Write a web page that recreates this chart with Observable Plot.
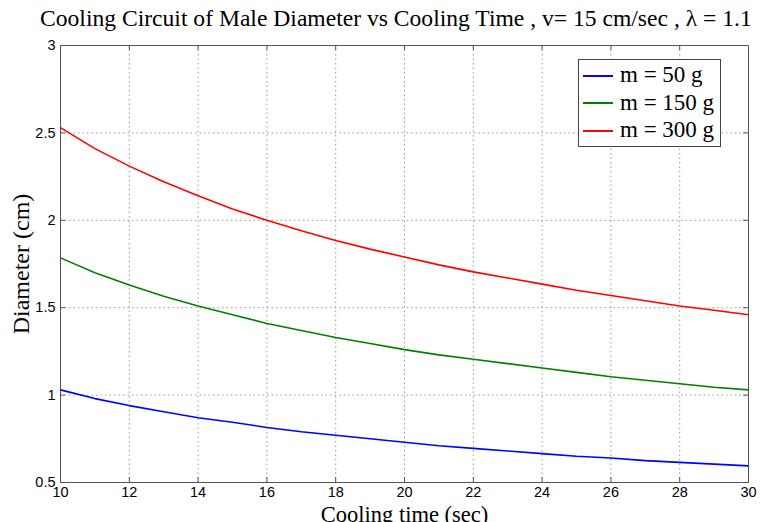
<!DOCTYPE html>
<html>
<head>
<meta charset="utf-8">
<script src="https://cdn.jsdelivr.net/npm/d3@7"></script>
<script src="https://cdn.jsdelivr.net/npm/@observablehq/plot@0.6"></script>
<style>
  html, body { margin: 0; padding: 0; background: #fff; }
  #wrap { position: relative; width: 773px; height: 522px; overflow: hidden; }
  #title { position: absolute; left: 40px; top: 0; height: 36px; text-align: left;
    font-family: "Liberation Serif", "Times New Roman", serif; font-size: 23.6px; line-height: 36px; color: #000; white-space: nowrap; }
  #chart { position: absolute; left: 0; top: 36px; }
  #chart svg text { fill: #000; }
  #chart [aria-label="x-axis label"] text { font-family: "Liberation Serif", "Times New Roman", serif; font-size: 22.5px; }
  #chart [aria-label="y-axis label"] text { font-family: "Liberation Serif", "Times New Roman", serif; font-size: 24px; }
  #legend { position: absolute; left: 578px; top: 59px; width: 141px; height: 86px; border: 1px solid #444; background: #fff;
    font-family: "Liberation Serif", "Times New Roman", serif; font-size: 23px; color: #000; }
  .row { position: absolute; left: 4px; height: 28px; line-height: 28px; white-space: nowrap; }
  .sw { display: inline-block; width: 30px; height: 2px; vertical-align: middle; margin-right: 7px; position: relative; top: -1px; }
</style>
</head>
<body>
<div id="wrap">
  <div id="title">Cooling Circuit of Male Diameter vs Cooling Time , v= 15 cm/sec , λ = 1.1</div>
  <div id="chart"></div>
  <div id="legend"></div>
</div>
<script>
const time = [10,11,12,13,14,15,16,17,18,19,20,21,22,23,24,25,26,27,28,29,30];
const m50  = [1.03,0.98,0.94,0.905,0.87,0.845,0.815,0.79,0.77,0.75,0.73,0.71,0.695,0.68,0.665,0.65,0.64,0.625,0.615,0.605,0.595];
const m150 = [1.785,1.70,1.63,1.565,1.51,1.46,1.41,1.37,1.33,1.295,1.26,1.23,1.205,1.18,1.155,1.13,1.105,1.085,1.065,1.045,1.03];
const m300 = [2.53,2.41,2.31,2.22,2.14,2.065,2.0,1.94,1.885,1.835,1.79,1.745,1.705,1.67,1.635,1.60,1.57,1.54,1.51,1.485,1.46];
const seriesNames = ["m = 50 g", "m = 150 g", "m = 300 g"];
const seriesColors = ["#0000ff", "#008000", "#ff0000"];
const xTicks = [10,12,14,16,18,20,22,24,26,28,30];
const yTicks = [0.5,1,1.5,2,2.5,3];

const seriesValues = [m50, m150, m300];
const data = [];
seriesValues.forEach((vals, i) => vals.forEach((v, j) => data.push({t: time[j], d: v, s: seriesNames[i]})));

const W = 773, H = 486, ML = 60, MR = 25, MT = 9, MB = 40;
const innerW = W - ML - MR, innerH = H - MT - MB, tickLen = 5;

const tickFont = {fontFamily: "'Liberation Sans', Arial, sans-serif", fontSize: 14.5};
const gridStyle = {stroke: "#999", strokeOpacity: 1, strokeDasharray: "1.5,3"};
const tickStyle = {stroke: "#555", strokeWidth: 1};

const chart = Plot.plot({
  width: W,
  height: H,
  marginLeft: ML,
  marginRight: MR,
  marginTop: MT,
  marginBottom: MB,
  style: {background: "#fff", color: "#000"},
  x: {domain: [10, 30], ticks: xTicks, label: "Cooling time (sec)", labelAnchor: "center", labelArrow: "none"},
  y: {domain: [0.5, 3], ticks: yTicks, label: "Diameter (cm)", labelAnchor: "center", labelArrow: "none"},
  color: {domain: seriesNames, range: seriesColors},
  marks: [
    Plot.gridX(xTicks, gridStyle),
    Plot.gridY(yTicks, gridStyle),
    Plot.axisX(xTicks, {tickSize: 0, tickPadding: 4, tickFormat: d => String(d), ...tickFont, label: "Cooling time (sec)", labelAnchor: "center", labelArrow: "none", labelOffset: 39}),
    Plot.axisY(yTicks, {tickSize: 0, tickPadding: 5, tickFormat: d => String(d), ...tickFont, label: "Diameter (cm)", labelAnchor: "center", labelArrow: "none", labelOffset: 49}),
    Plot.tickX(xTicks, {x: d => d, insetTop: innerH - tickLen, ...tickStyle}),
    Plot.tickX(xTicks, {x: d => d, insetBottom: innerH - tickLen, ...tickStyle}),
    Plot.tickY(yTicks, {y: d => d, insetRight: innerW - tickLen, ...tickStyle}),
    Plot.tickY(yTicks, {y: d => d, insetLeft: innerW - tickLen, ...tickStyle}),
    Plot.line(data, {x: "t", y: "d", z: "s", stroke: "s", strokeWidth: 1.6}),
    Plot.frame({stroke: "#555", strokeWidth: 1})
  ]
});
document.getElementById("chart").appendChild(chart);

const legend = document.getElementById("legend");
seriesNames.forEach((name, i) => {
  const row = document.createElement("div");
  row.className = "row";
  row.style.top = (1 + i * 27.5) + "px";
  row.innerHTML = `<span class="sw" style="background:${seriesColors[i]}"></span>${name}`;
  legend.appendChild(row);
});
</script>
</body>
</html>
